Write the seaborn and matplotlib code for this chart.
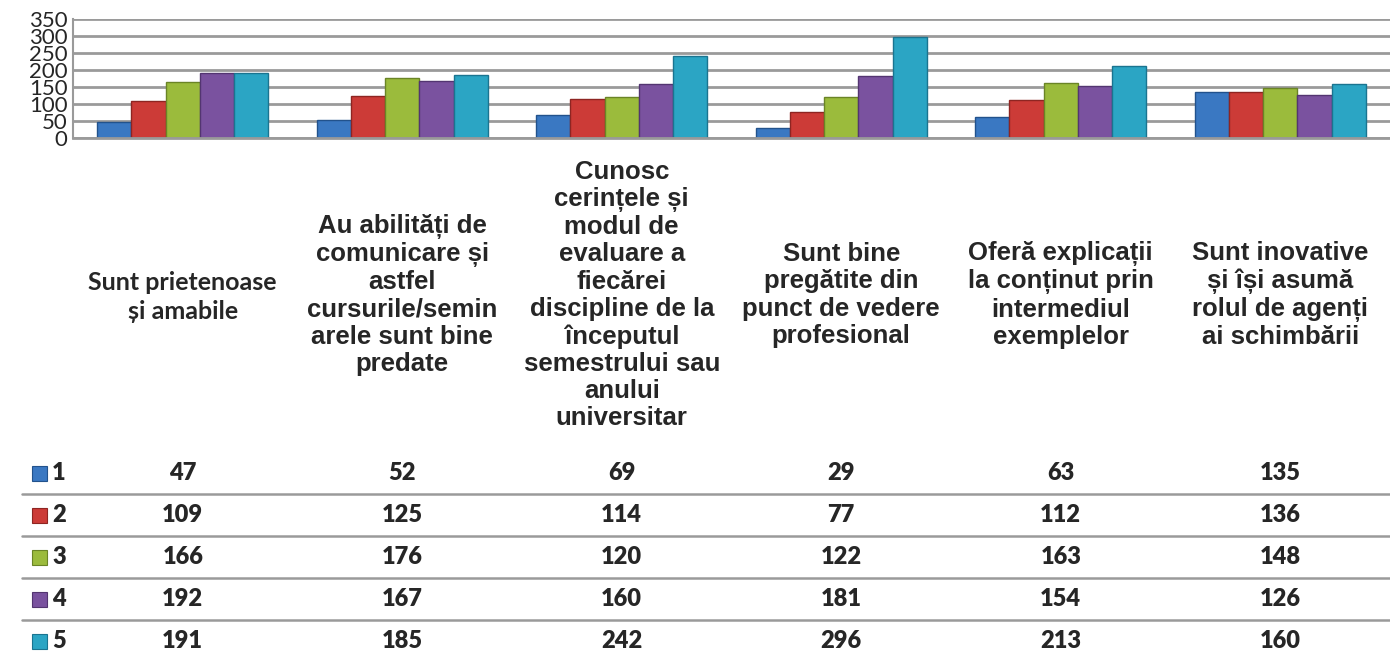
"""Grouped bar chart with data table, Excel style."""

import pandas as pd
import numpy as np
import matplotlib
matplotlib.use('Agg')
import matplotlib.pyplot as plt
import matplotlib.transforms as mtransforms
import seaborn as sns

categories = [
    "Sunt prietenoase\nși amabile",
    "Au abilități de\ncomunicare și\nastfel\ncursurile/semin\narele sunt bine\npredate",
    "Cunosc\ncerințele și\nmodul de\nevaluare a\nfiecărei\ndiscipline de la\nînceputul\nsemestrului sau\nanului\nuniversitar",
    "Sunt bine\npregătite din\npunct de vedere\nprofesional",
    "Oferă explicații\nla conținut prin\nintermediul\nexemplelor",
    "Sunt inovative\nși își asumă\nrolul de agenți\nai schimbării",
]
series_names = ["1", "2", "3", "4", "5"]
values_1 = [47, 52, 69, 29, 63, 135]
values_2 = [109, 125, 114, 77, 112, 136]
values_3 = [166, 176, 120, 122, 163, 148]
values_4 = [192, 167, 160, 181, 154, 126]
values_5 = [191, 185, 242, 296, 213, 160]
y_ticks = [0, 50, 100, 150, 200, 250, 300, 350]

colors = ["#3A78C2", "#CC3B37", "#9BBB3C", "#7A529F", "#2BA5C4"]
edges = ["#22528C", "#8E2522", "#6A8426", "#533571", "#1A7490"]

all_values = [values_1, values_2, values_3, values_4, values_5]
rows = []
for name, vals in zip(series_names, all_values):
    for i, v in enumerate(vals):
        rows.append({"cat": i, "series": name, "value": v})
df = pd.DataFrame(rows)

sns.set_style("white")
plt.rcParams['font.family'] = ['Lato', 'DejaVu Sans']

fig = plt.figure(figsize=(13.9, 6.53), dpi=100)
ax = fig.add_axes([73 / 1390, 1 - 138 / 653, 1 - 73 / 1390, (138 - 19) / 653])

sns.barplot(data=df, x="cat", y="value", hue="series", palette=colors,
            width=0.78, gap=0, ax=ax, legend=False, saturation=1)

for j, container in enumerate(ax.containers):
    for patch in container:
        patch.set_edgecolor(edges[j])
        patch.set_linewidth(1.0)

ax.set_ylim(0, 350)
ax.set_xlim(-0.5, len(categories) - 0.5)
ax.set_yticks(y_ticks)
ax.set_yticklabels([str(t) for t in y_ticks], fontsize=16)
ax.tick_params(axis='y', length=0, pad=4)
ax.set_xticks([])
ax.set_xlabel("")
ax.set_ylabel("")
ax.yaxis.grid(True, color="#9A9A9A", linewidth=2.0)
ax.set_axisbelow(True)
for s in ["top", "right"]:
    ax.spines[s].set_visible(False)
ax.spines["left"].set_color("#9A9A9A")
ax.spines["left"].set_linewidth(1.5)
ax.spines["bottom"].set_color("#9A9A9A")
ax.spines["bottom"].set_linewidth(2.0)

# category labels
trans = mtransforms.blended_transform_factory(ax.transData, fig.transFigure)
for i, label in enumerate(categories):
    if i == 0:
        ax.text(i, 1 - 297 / 653, label, transform=trans, ha='center', va='center',
                fontsize=18, fontweight='bold', family=['Lato', 'DejaVu Sans'],
                linespacing=1.3)
    else:
        ax.text(i, 1 - 295 / 653, label, transform=trans, ha='center', va='center',
                fontsize=18.5, fontweight='bold',
                family=['Liberation Sans', 'DejaVu Sans'], linespacing=1.17)

# data table
row_y = [473, 515, 557, 599, 641]
sep_y = [494, 536, 578, 620]
for j, (name, vals) in enumerate(zip(series_names, all_values)):
    yf = 1 - row_y[j] / 653
    fig.patches.append(plt.Rectangle((32 / 1390, yf - 7.5 / 653), 15 / 1390, 15 / 653,
                                     transform=fig.transFigure, facecolor=colors[j],
                                     edgecolor=edges[j], linewidth=0.8))
    fig.text(52 / 1390, yf, name, ha='left', va='center', fontsize=17, fontweight='heavy')
    for i, v in enumerate(vals):
        ax.text(i, yf, str(v), transform=trans, ha='center', va='center',
                fontsize=17, fontweight='heavy')
for y in sep_y:
    yf = 1 - y / 653
    fig.add_artist(plt.Line2D([22 / 1390, 1], [yf, yf], transform=fig.transFigure,
                              color="#9A9A9A", linewidth=1.8))

fig.savefig("out.png", dpi=100)
